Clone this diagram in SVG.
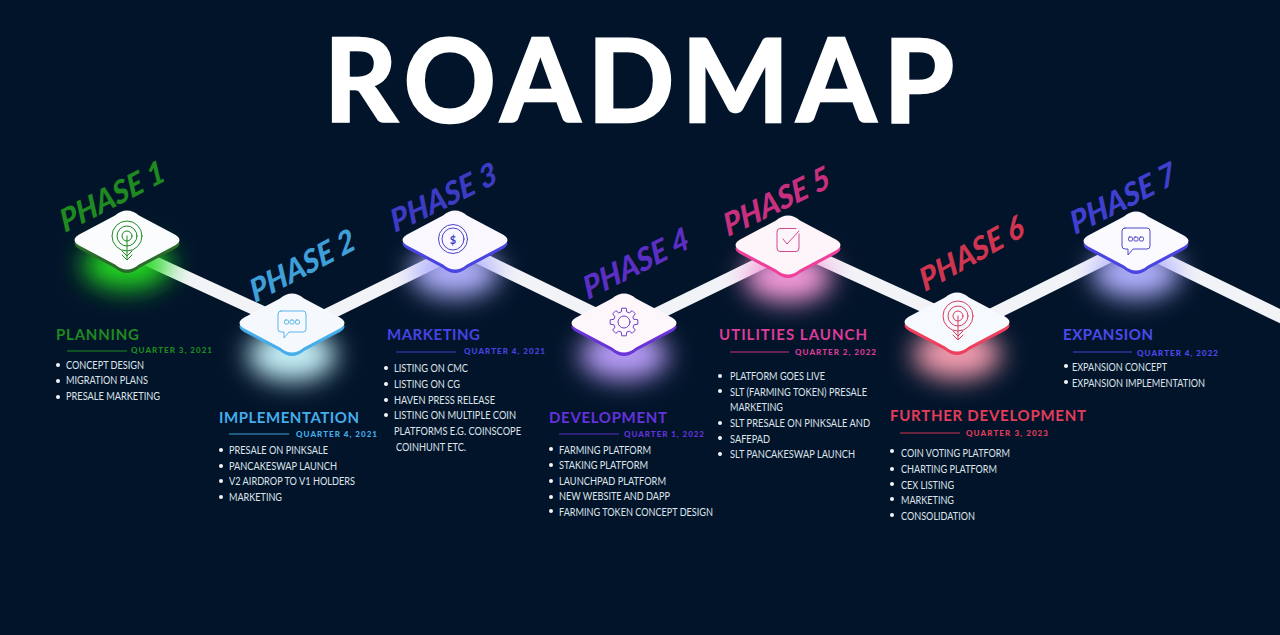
<svg xmlns="http://www.w3.org/2000/svg" width="1280" height="635" viewBox="0 0 1280 635">
<style>
text{font-family:"Lato","Liberation Sans",sans-serif}
.title{font-size:114px;font-weight:700;fill:#fff;stroke:#fff;stroke-width:2.500px}
.ph{font-size:31px;font-weight:900;font-style:italic}
.hd{font-size:15px;font-weight:700}
.q{font-size:8px;font-weight:900}
.li{font-size:10.500px;font-weight:400;fill:#dfe4ea}
.ic{fill:none;stroke-width:1;stroke-linejoin:round;stroke-linecap:round}
.band{stroke:#f2f3f7;stroke-width:13;fill:none}
.g1{fill:#1f8a1f;stroke:#1f8a1f}.g2{fill:#3f9fd8;stroke:#3f9fd8}.g3{fill:#3d3bc4;stroke:#3d3bc4}.g4{fill:#5b2fc4;stroke:#5b2fc4}.g5{fill:#c8307f;stroke:#c8307f}.g6{fill:#cf3450;stroke:#cf3450}.g7{fill:#4040d0;stroke:#4040d0}
text.g1,text.g2,text.g3,text.g4,text.g5,text.g6,text.g7{stroke:none}
line.g1,line.g2,line.g3,line.g4,line.g5,line.g6,line.g7{stroke-width:1}
.hd.g2,.q.g2{fill:#45aeea}.hd.g3,.q.g3{fill:#4444e4}.hd.g4,.q.g4{fill:#6432dc}.hd.g5,.q.g5{fill:#dc3c96}.hd.g6,.q.g6{fill:#e43c5a}.hd.g7,.q.g7{fill:#4a4aec}
.dot{fill:#f4f6fa}
</style>
<defs>
<filter id="blur" x="-80%" y="-120%" width="260%" height="340%"><feGaussianBlur stdDeviation="13"/></filter>
<path id="tile" d="M-12,-24.500 Q0,-34.500 12,-24.500 L45,-7 Q60,0 45,7 L12,24.500 Q0,34.500 -12,24.500 L-45,7 Q-60,0 -45,-7 Z"/>
<g id="target"><circle r="15"/><circle r="10"/><circle r="5"/><path d="M0,0V23M-5,15L0,20L5,15M-5,19L0,24L5,19"/></g>
<g id="chat"><path d="M-11,-12H11Q14,-12 14,-9V6Q14,9 11,9H-3L-8,15V9H-11Q-14,9 -14,6V-9Q-14,-12 -11,-12Z"/><rect x="-7.500" y="-3" width="4" height="4" rx="1.200"/><rect x="-2" y="-3" width="4" height="4" rx="1.200"/><rect x="3.500" y="-3" width="4" height="4" rx="1.200"/></g>
<g id="coin"><circle r="14.500"/><circle r="11"/></g>
<g id="gear"><polygon points="10.1,-2.7 13.8,-2.2 13.8,2.2 10.1,2.7 9.1,5.25 11.3,8.2 8.2,11.3 5.25,9.1 2.7,10.1 2.2,13.8 -2.2,13.8 -2.7,10.1 -5.25,9.1 -8.2,11.3 -11.3,8.2 -9.1,5.25 -10.1,2.7 -13.8,2.2 -13.8,-2.2 -10.1,-2.7 -9.1,-5.25 -11.3,-8.2 -8.2,-11.3 -5.25,-9.1 -2.7,-10.1 -2.2,-13.8 2.2,-13.8 2.7,-10.1 5.25,-9.1 8.2,-11.3 11.3,-8.2 9.1,-5.25"/><circle r="6"/></g>
<g id="check"><path d="M11,-6V8Q11,11.500 8,11.500H-8Q-11,11.500 -11,8V-8Q-11,-11.500 -8,-11.500H8"/><path d="M-5,-1L-1,4L11,-9"/></g>
</defs>
<rect width="1280" height="635" fill="#02142a"/>
<text class="title" x="324" y="122" textLength="630" lengthAdjust="spacing">ROADMAP</text>
<g id="connectors" class="band">
<path d="M127,250L292,326"/><path d="M292,332L455,252"/><path d="M455,246L624,328"/><path d="M624,330L788,250"/><path d="M788,244L957,321"/><path d="M957,332L1136,243"/><path d="M1136,246L1290,321"/>
</g>
<g id="node1">
<ellipse cx="127" cy="265" rx="44" ry="24" fill="#22d822" filter="url(#blur)"/>
<use href="#tile" x="127" y="243.500" fill="#2b6b2b"/><use href="#tile" x="127" y="240" fill="#fbfcfe"/>
<use href="#target" x="127" y="236" class="ic" stroke="#1f8a1f"/>
<text class="ph g1" transform="translate(65,233) rotate(-27.500) skewX(-8)" textLength="115" lengthAdjust="spacingAndGlyphs">PHASE 1</text>
<text class="hd g1" x="56" y="340" textLength="83" lengthAdjust="spacing">PLANNING</text>
<line class="g1" x1="67" x2="127" y1="351" y2="351"/>
<text class="q g1" x="131" y="353" textLength="81" lengthAdjust="spacing">QUARTER 3, 2021</text>
<circle class="dot" cx="58" cy="365" r="2"/><circle class="dot" cx="58" cy="381" r="2"/><circle class="dot" cx="58" cy="397" r="2"/>
<text class="li" x="66" y="369" textLength="78" lengthAdjust="spacingAndGlyphs">CONCEPT DESIGN</text>
<text class="li" x="66" y="384" textLength="82" lengthAdjust="spacingAndGlyphs">MIGRATION PLANS</text>
<text class="li" x="66" y="400" textLength="94" lengthAdjust="spacingAndGlyphs">PRESALE MARKETING</text>
</g>
<g id="node2">
<ellipse cx="292" cy="355" rx="44" ry="26" fill="#c5f0f8" filter="url(#blur)"/>
<use href="#tile" x="292" y="326.500" fill="#45aeea"/><use href="#tile" x="292" y="323" fill="#f5f8fd"/>
<use href="#chat" x="292" y="323" class="ic" stroke="#5cb6e6"/>
<text class="ph g2" transform="translate(255,303) rotate(-28) skewX(-8)" textLength="116" lengthAdjust="spacingAndGlyphs">PHASE 2</text>
<text class="hd g2" x="219" y="423" textLength="140" lengthAdjust="spacing">IMPLEMENTATION</text>
<line class="g2" x1="229" x2="289" y1="434" y2="434"/>
<text class="q g2" x="296" y="437" textLength="81" lengthAdjust="spacing">QUARTER 4, 2021</text>
<circle class="dot" cx="221" cy="450" r="2"/><circle class="dot" cx="221" cy="466" r="2"/><circle class="dot" cx="221" cy="481" r="2"/><circle class="dot" cx="221" cy="497" r="2"/>
<text class="li" x="229" y="454" textLength="99" lengthAdjust="spacingAndGlyphs">PRESALE ON PINKSALE</text>
<text class="li" x="229" y="470" textLength="108" lengthAdjust="spacingAndGlyphs">PANCAKESWAP LAUNCH</text>
<text class="li" x="229" y="485" textLength="126" lengthAdjust="spacingAndGlyphs">V2 AIRDROP TO V1 HOLDERS</text>
<text class="li" x="229" y="501" textLength="53" lengthAdjust="spacingAndGlyphs">MARKETING</text>
</g>
<g id="node3">
<ellipse cx="455" cy="272" rx="44" ry="25" fill="#b0b0fc" filter="url(#blur)"/>
<use href="#tile" x="455" y="243.500" fill="#4a44e0"/><use href="#tile" x="455" y="240" fill="#faf8fe"/>
<use href="#coin" x="453" y="239" class="ic" stroke="#4a44c8"/>
<text x="453" y="243.500" text-anchor="middle" font-size="11" font-weight="700" fill="#3d3bc8">$</text>
<text class="ph g3" transform="translate(395,233) rotate(-26) skewX(-8)" textLength="116" lengthAdjust="spacingAndGlyphs">PHASE 3</text>
<text class="hd g3" x="387" y="340" textLength="93" lengthAdjust="spacing">MARKETING</text>
<line class="g3" x1="396" x2="456" y1="352" y2="352"/>
<text class="q g3" x="464" y="354" textLength="81" lengthAdjust="spacing">QUARTER 4, 2021</text>
<circle class="dot" cx="386" cy="368" r="2"/><circle class="dot" cx="386" cy="384" r="2"/><circle class="dot" cx="386" cy="400" r="2"/><circle class="dot" cx="386" cy="415" r="2"/>
<text class="li" x="394" y="372" textLength="74" lengthAdjust="spacingAndGlyphs">LISTING ON CMC</text>
<text class="li" x="394" y="388" textLength="66" lengthAdjust="spacingAndGlyphs">LISTING ON CG</text>
<text class="li" x="394" y="404" textLength="101" lengthAdjust="spacingAndGlyphs">HAVEN PRESS RELEASE</text>
<text class="li" x="394" y="419" textLength="122" lengthAdjust="spacingAndGlyphs">LISTING ON MULTIPLE COIN</text>
<text class="li" x="394" y="435" textLength="127" lengthAdjust="spacingAndGlyphs">PLATFORMS E.G. COINSCOPE</text>
<text class="li" x="396" y="451" textLength="70" lengthAdjust="spacingAndGlyphs">COINHUNT ETC.</text>
</g>
<g id="node4">
<ellipse cx="624" cy="355" rx="44" ry="25" fill="#b89cf8" filter="url(#blur)"/>
<use href="#tile" x="624" y="326.500" fill="#6a34d8"/><use href="#tile" x="624" y="323" fill="#fdf7fc"/>
<use href="#gear" x="624" y="322" class="ic" stroke="#6a3fc8"/>
<text class="ph g4" transform="translate(588,300) rotate(-27) skewX(-8)" textLength="116" lengthAdjust="spacingAndGlyphs">PHASE 4</text>
<text class="hd g4" x="549" y="423" textLength="118" lengthAdjust="spacing">DEVELOPMENT</text>
<line class="g4" x1="559" x2="619" y1="434" y2="434"/>
<text class="q g4" x="624" y="437" textLength="80" lengthAdjust="spacing">QUARTER 1, 2022</text>
<circle class="dot" cx="551" cy="449" r="2"/><circle class="dot" cx="551" cy="465" r="2"/><circle class="dot" cx="551" cy="481" r="2"/><circle class="dot" cx="551" cy="497" r="2"/><circle class="dot" cx="551" cy="511" r="2"/>
<text class="li" x="559" y="454" textLength="92" lengthAdjust="spacingAndGlyphs">FARMING PLATFORM</text>
<text class="li" x="559" y="469" textLength="89" lengthAdjust="spacingAndGlyphs">STAKING PLATFORM</text>
<text class="li" x="559" y="485" textLength="107" lengthAdjust="spacingAndGlyphs">LAUNCHPAD PLATFORM</text>
<text class="li" x="559" y="500" textLength="111" lengthAdjust="spacingAndGlyphs">NEW WEBSITE AND DAPP</text>
<text class="li" x="559" y="516" textLength="154" lengthAdjust="spacingAndGlyphs">FARMING TOKEN CONCEPT DESIGN</text>
</g>
<g id="node5">
<ellipse cx="788" cy="277" rx="44" ry="25" fill="#f49ada" filter="url(#blur)"/>
<use href="#tile" x="788" y="248.500" fill="#ee3f9a"/><use href="#tile" x="788" y="245" fill="#fdf5fa"/>
<use href="#check" x="788" y="240" class="ic" stroke="#cf4a90"/>
<text class="ph g5" transform="translate(728,237) rotate(-26) skewX(-8)" textLength="116" lengthAdjust="spacingAndGlyphs">PHASE 5</text>
<text class="hd g5" x="719" y="340" textLength="148" lengthAdjust="spacing">UTILITIES LAUNCH</text>
<line class="g5" x1="730" x2="789" y1="352" y2="352"/>
<text class="q g5" x="795" y="355" textLength="81" lengthAdjust="spacing">QUARTER 2, 2022</text>
<circle class="dot" cx="720" cy="376" r="2"/><circle class="dot" cx="720" cy="391" r="2"/><circle class="dot" cx="720" cy="423" r="2"/><circle class="dot" cx="720" cy="438" r="2"/><circle class="dot" cx="720" cy="454" r="2"/>
<text class="li" x="730" y="380" textLength="95" lengthAdjust="spacingAndGlyphs">PLATFORM GOES LIVE</text>
<text class="li" x="730" y="396" textLength="137" lengthAdjust="spacingAndGlyphs">SLT (FARMING TOKEN) PRESALE</text>
<text class="li" x="730" y="411" textLength="53" lengthAdjust="spacingAndGlyphs">MARKETING</text>
<text class="li" x="730" y="427" textLength="140" lengthAdjust="spacingAndGlyphs">SLT PRESALE ON PINKSALE AND</text>
<text class="li" x="730" y="443" textLength="40" lengthAdjust="spacingAndGlyphs">SAFEPAD</text>
<text class="li" x="730" y="458" textLength="125" lengthAdjust="spacingAndGlyphs">SLT PANCAKESWAP LAUNCH</text>
</g>
<g id="node6">
<ellipse cx="957" cy="354" rx="44" ry="25" fill="#f49cb0" filter="url(#blur)"/>
<use href="#tile" x="957" y="325.500" fill="#ee3f5c"/><use href="#tile" x="957" y="322" fill="#f6f9fd"/>
<use href="#target" x="958" y="316" class="ic" stroke="#d8405c"/>
<text class="ph g6" transform="translate(925,292) rotate(-29.500) skewX(-8)" textLength="116" lengthAdjust="spacingAndGlyphs">PHASE 6</text>
<text class="hd g6" x="890" y="421" textLength="196" lengthAdjust="spacing">FURTHER DEVELOPMENT</text>
<line class="g6" x1="900" x2="960" y1="433" y2="433"/>
<text class="q g6" x="966" y="436" textLength="82" lengthAdjust="spacing">QUARTER 3, 2023</text>
<circle class="dot" cx="892" cy="451" r="2"/><circle class="dot" cx="892" cy="469" r="2"/><circle class="dot" cx="892" cy="484" r="2"/><circle class="dot" cx="892" cy="499" r="2"/><circle class="dot" cx="892" cy="515" r="2"/>
<text class="li" x="901" y="457" textLength="109" lengthAdjust="spacingAndGlyphs">COIN VOTING PLATFORM</text>
<text class="li" x="901" y="473" textLength="96" lengthAdjust="spacingAndGlyphs">CHARTING PLATFORM</text>
<text class="li" x="901" y="489" textLength="53" lengthAdjust="spacingAndGlyphs">CEX LISTING</text>
<text class="li" x="901" y="504" textLength="53" lengthAdjust="spacingAndGlyphs">MARKETING</text>
<text class="li" x="901" y="520" textLength="74" lengthAdjust="spacingAndGlyphs">CONSOLIDATION</text>
</g>
<g id="node7">
<ellipse cx="1136" cy="273" rx="44" ry="25" fill="#b0b0fe" filter="url(#blur)"/>
<use href="#tile" x="1136" y="244.500" fill="#4a44e0"/><use href="#tile" x="1136" y="241" fill="#fafaff"/>
<use href="#chat" x="1136" y="240" class="ic" stroke="#4f48c8"/>
<text class="ph g7" transform="translate(1075,235) rotate(-27) skewX(-8)" textLength="116" lengthAdjust="spacingAndGlyphs">PHASE 7</text>
<text class="hd g7" x="1063" y="340" textLength="90" lengthAdjust="spacing">EXPANSION</text>
<line class="g7" x1="1073" x2="1132" y1="352" y2="352"/>
<text class="q g7" x="1137" y="356" textLength="81" lengthAdjust="spacing">QUARTER 4, 2022</text>
<circle class="dot" cx="1066" cy="366" r="2"/><circle class="dot" cx="1066" cy="382" r="2"/>
<text class="li" x="1072" y="371" textLength="95" lengthAdjust="spacingAndGlyphs">EXPANSION CONCEPT</text>
<text class="li" x="1072" y="387" textLength="133" lengthAdjust="spacingAndGlyphs">EXPANSION IMPLEMENTATION</text>
</g>
</svg>
